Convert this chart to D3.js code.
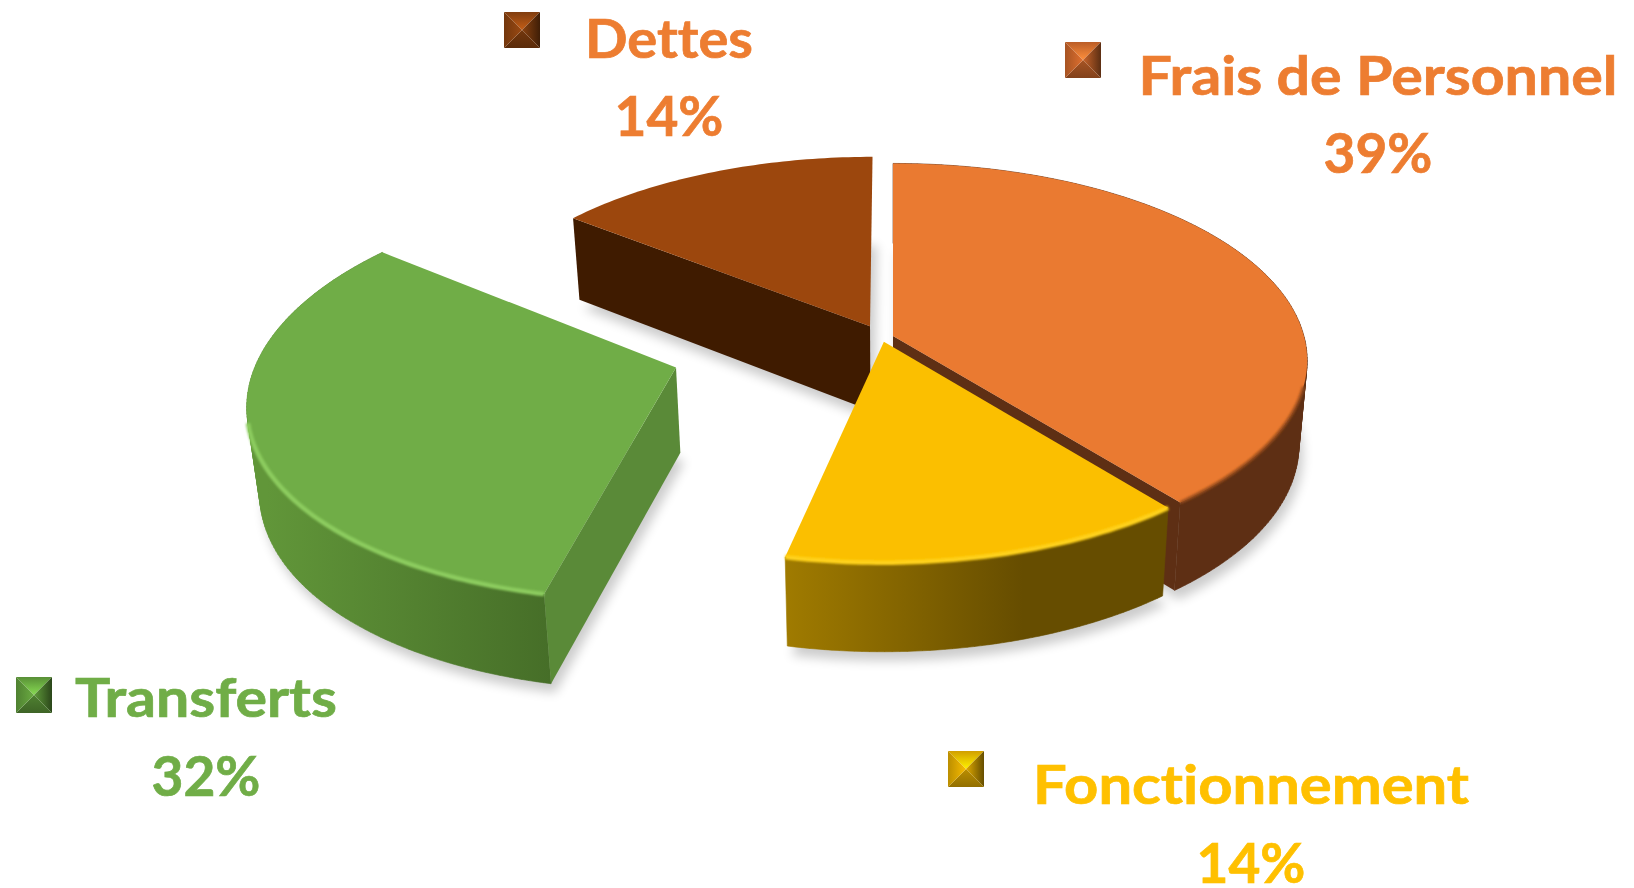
<!DOCTYPE html>
<html><head><meta charset="utf-8">
<script src="https://cdn.jsdelivr.net/npm/d3@7"></script>
<style>html,body{margin:0;padding:0;background:#fff;overflow:hidden}svg{display:block}
text{font-family:Lato,"Open Sans",sans-serif;font-weight:700;text-anchor:middle;font-variant-ligatures:none;font-feature-settings:"liga" 0,"dlig" 0;stroke-width:.7px}</style>
</head><body><svg id="c" width="1634" height="888"></svg>
<script>
// data
const categories = ["Frais de Personnel","Fonctionnement","Transferts","Dettes"];
const values = [39,14.2,32,14.49];
const topColors = ["#ea7a31","#fbbf00","#70ad47","#9c470d"];
const labelColors = ["#ed7d31","#ffc000","#70ad47","#ed7d31"];
const edgeColors = ["#5e2f14","#664d00","#5a8a38","#3f1b00"];
const wallFrom = ["#5e2f14","#a07b00","#619639","#3f1b00"];
const wallTo = ["#5e2f14","#664d00","#466e28","#3f1b00"];
const rimColors = ["#9a4d1e","#ffd21a","#8ccc5f","#9c470d"];

// layout (exploded-slice offsets in disk units, label anchors)
const explodeU = [0,-0.022,-0.515,-0.056];
const explodeV = [0,0.030,0.158,-0.050];
const radius = [0.995,0.985,1,0.988];
const labelX = [1378,1251,206,669], labelY1 = [95,804,717,58], labelY2 = [173,883,796,136];
const fontSize = 54, pctSize = 55;
const textWidths = [479,436,262,168];
const markerX = [1065,948,16,504], markerY = [42,751,677,12], markerSize = 36;
const drawOrder = [3,2,0,1];

const W=1634,H=888, cx=893, cy=336, k=0.125;
const sx=d3.scaleLinear().domain([-1,1]).range([cx-413,cx+413]);
const sy=d3.scaleLinear().domain([-1,1]).range([cy-195,cy+195]);
const bottomX=d3.scaleLinear().domain([cx-100,cx+100]).range([cx-98,cx+98]);
const depth=d3.scaleLinear().domain([-1,1]).range([80,89]);

function project(u,v,bottom){
  const s=1/(1-k*v);
  let x=sx(u*s), y=sy(v*s);
  if(bottom){x=bottomX(x); y+=depth(v);}
  return [x,y];
}
const pie=d3.pie().sort(null).value(d=>d)(values);
const svg=d3.select("#c");
const defs=svg.append("defs");
const f1=defs.append("filter").attr("id","shadow").attr("x","-20%").attr("y","-20%").attr("width","140%").attr("height","140%");
f1.append("feGaussianBlur").attr("stdDeviation",5.5);
const f2=defs.append("filter").attr("id","soft").attr("x","-10%").attr("y","-10%").attr("width","120%").attr("height","120%");
f2.append("feGaussianBlur").attr("stdDeviation",1.2);

const line=d3.line();
function arcPts(i,a0,a1,bottom){
  const n=Math.max(2,Math.ceil((a1-a0)*60));
  return d3.range(n+1).map(j=>{
    const a=a0+(a1-a0)*j/n;
    return project(explodeU[i]+radius[i]*Math.sin(a),explodeV[i]-radius[i]*Math.cos(a),bottom);
  });
}
function apex(i,bottom){return project(explodeU[i],explodeV[i],bottom);}
function quadsPath(t,b){
  let s="";
  for(let j=0;j<t.length-1;j++){
    let q=[t[j],t[j+1],b[j+1],b[j]];
    if(d3.polygonArea(q)<0) q=q.reverse();
    s+=line(q)+"Z";
  }
  return s;
}

// soft ground shadow
const gs=svg.append("g").attr("filter","url(#shadow)").attr("opacity",0.2).attr("transform","translate(4,9)");
pie.forEach((d,i)=>{
  const b=arcPts(i,d.startAngle,d.endAngle,true);
  gs.append("path").attr("d",line([apex(i,true),...b])+"Z").attr("fill","#000");
});

const mid=(a0,a1,t)=>a0+(a1-a0)*t;
drawOrder.forEach(i=>{
  const d=pie[i], g=svg.append("g");
  const topArc=arcPts(i,d.startAngle,d.endAngle,false), botArc=arcPts(i,d.startAngle,d.endAngle,true);
  const xs=topArc.map(p=>p[0]);
  const gradId="wall"+i;
  const lg=defs.append("linearGradient").attr("id",gradId).attr("gradientUnits","userSpaceOnUse")
    .attr("y1",0).attr("y2",0);
  if(i===1){lg.attr("x1",d3.min(xs)).attr("x2",mid(d3.min(xs),d3.max(xs),0.62));}
  else if(i===2){lg.attr("x1",d3.min(xs)+20).attr("x2",d3.max(botArc.filter(p=>p[1]>500).map(p=>p[0])));}
  else {lg.attr("x1",d3.min(xs)).attr("x2",d3.max(xs));}
  lg.append("stop").attr("offset",0).attr("stop-color",wallFrom[i]);
  lg.append("stop").attr("offset",1).attr("stop-color",wallTo[i]);
  // curved wall (back-facing Dettes arc is hidden)
  if(i!==3) g.append("path").attr("d",quadsPath(topArc,botArc)).attr("fill",`url(#${gradId})`)
    .attr("stroke",`url(#${gradId})`).attr("stroke-width",.6);
  // radial walls
  const a=apex(i,false), ab=apex(i,true);
  const wallEdge=(p,pb)=>g.append("path").attr("d",line([a,p,pb,ab])+"Z").attr("fill",edgeColors[i]);
  if(i===3) wallEdge(topArc[0],botArc[0]);
  if(i===0) wallEdge(topArc[topArc.length-1],botArc[botArc.length-1]);
  if(i===2) wallEdge(topArc[0],botArc[0]);
  // top face
  g.append("path").attr("d",line([a,...topArc])+"Z").attr("fill",topColors[i]);
  // bevel rim along the front of the top face
  const front=topArc.filter(p=>p[1]>project(explodeU[i],explodeV[i]+0.25,false)[1]);
  if(i<3) g.append("path").attr("d",line(front)).attr("fill","none").attr("stroke",rimColors[i])
    .attr("stroke-width",i===0?3:4.5).attr("filter","url(#soft)");
});

// labels
const lab=svg.append("g");
categories.forEach((c,i)=>{
  lab.append("text").attr("x",labelX[i]).attr("y",labelY1[i]).attr("font-size",fontSize).attr("fill",labelColors[i])
    .attr("stroke",labelColors[i])
    .attr("textLength",textWidths[i]).attr("lengthAdjust","spacingAndGlyphs").text(c);
  lab.append("text").attr("x",labelX[i]).attr("y",labelY2[i]).attr("font-size",pctSize).attr("fill",labelColors[i])
    .attr("stroke",labelColors[i]).text(Math.round(values[i])+"%");
});

// bevelled legend markers
const markerBase=["#c8642a","#e0aa00","#5f9a3a","#8a4210"];
categories.forEach((c,i)=>{
  const x0=markerX[i], y0=markerY[i], s=markerSize;
  const m=d3.scaleLinear().domain([0,1]).range([0,s]);
  const g=svg.append("g").attr("transform",`translate(${x0},${y0})`);
  const base=d3.color(markerBase[i]);
  const tris=[
    {p:[[0,0],[1,0],[.5,.5]],g:[.5,0,.5,.5],c0:base.darker(.2),c1:base.brighter(1)},
    {p:[[1,0],[1,1],[.5,.5]],g:[1,.5,.5,.5],c0:base.darker(2.2),c1:base},
    {p:[[1,1],[0,1],[.5,.5]],g:[.5,1,.5,.5],c0:base.darker(1.2),c1:base.darker(.5)},
    {p:[[0,1],[0,0],[.5,.5]],g:[0,.5,.5,.5],c0:base.darker(.5),c1:base.brighter(.3)}
  ];
  tris.forEach((t,j)=>{
    const id=`m${i}_${j}`;
    const lg=defs.append("linearGradient").attr("id",id).attr("gradientUnits","userSpaceOnUse")
      .attr("x1",m(t.g[0])).attr("y1",m(t.g[1])).attr("x2",m(t.g[2])).attr("y2",m(t.g[3]));
    lg.append("stop").attr("offset",0).attr("stop-color",t.c0);
    lg.append("stop").attr("offset",1).attr("stop-color",t.c1);
    g.append("path").attr("d",line(t.p.map(q=>[m(q[0]),m(q[1])]))+"Z").attr("fill",`url(#${id})`);
  });
});
</script></body></html>
